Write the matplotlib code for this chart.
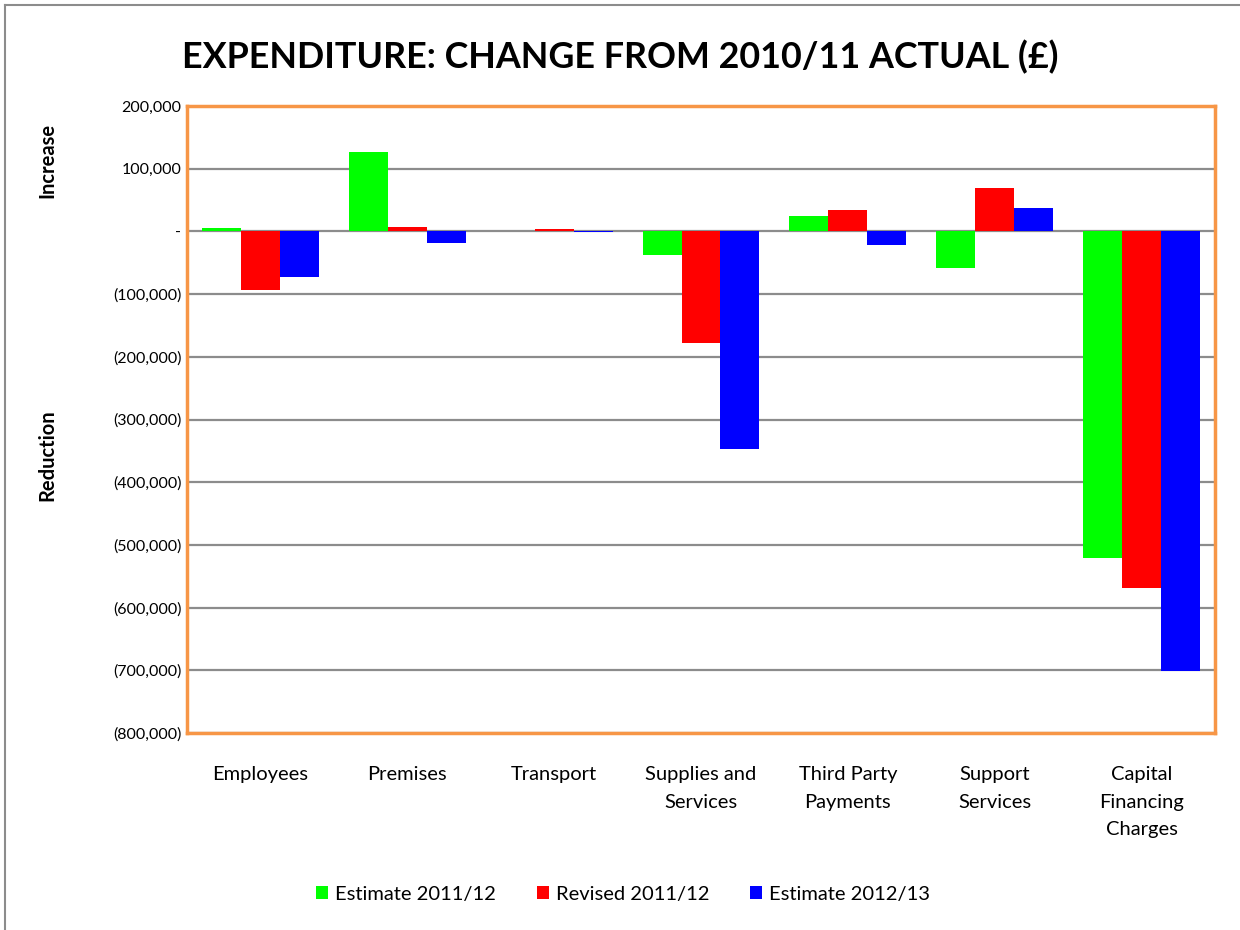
import matplotlib
matplotlib.use("Agg")
import matplotlib.pyplot as plt
import numpy as np
from matplotlib.lines import Line2D

categories = ["Employees", "Premises", "Transport", "Supplies and\nServices",
              "Third Party\nPayments", "Support\nServices", "Capital\nFinancing\nCharges"]
series_names = ["Estimate 2011/12", "Revised 2011/12", "Estimate 2012/13"]
estimate_2011 = [5000, 126500, 1000, -38000, 25000, -59000, -521000]
revised_2011 = [-94000, 7000, 4000, -178000, 33500, 69000, -568000]
estimate_2012 = [-73000, -18000, -1000, -347000, -21000, 37000, -701000]
colors = ["#00FF00", "#FF0000", "#0000FF"]
yticks = list(range(-800000, 200001, 100000))

plt.rcParams['font.family'] = ['Lato', 'DejaVu Sans']

fig = plt.figure(figsize=(12.4, 9.3), dpi=100)
ax = fig.add_axes([187/1240, 1-733/930, (1215-187)/1240, (733-106)/930])

x = np.arange(len(categories))
w = 0.265
for i, (vals, c, name) in enumerate(zip([estimate_2011, revised_2011, estimate_2012], colors, series_names)):
    ax.bar(x + (i-1)*w, vals, width=w, color=c, label=name, zorder=3)

ax.set_xlim(-0.5, len(categories)-0.5)
ax.set_ylim(-800000, 200000)
ax.set_yticks(yticks)

def fmt(v):
    if v == 0:
        return "-"
    if v < 0:
        return "({:,})".format(-v)
    return "{:,}".format(v)

ax.set_yticklabels([fmt(v) for v in yticks], fontsize=11.5)
ax.set_xticks(x)
ax.set_xticklabels(categories, fontsize=14.5, linespacing=1.75)
ax.tick_params(axis='both', length=0)
ax.tick_params(axis='y', pad=4)
ax.tick_params(axis='x', pad=24)
ax.grid(axis='y', color='#8c8c8c', linewidth=1.6, zorder=1)
ax.set_axisbelow(True)
for s in ax.spines.values():
    s.set_color('#F79646')
    s.set_linewidth(2.5)

fig.text(620/1240, 1-57/930, "EXPENDITURE: CHANGE FROM 2010/11 ACTUAL (£)",
         ha='center', va='center', fontsize=25.8, fontweight='bold')
fig.text(47/1240, 1-160/930, "Increase", rotation=90, ha='center', va='center',
         fontsize=14.5, fontweight='bold')
fig.text(47/1240, 1-455/930, "Reduction", rotation=90, ha='center', va='center',
         fontsize=14.5, fontweight='bold')

leg = fig.legend(loc='center', bbox_to_anchor=(623/1240, 1-894/930), ncol=3,
                 frameon=False, fontsize=14.5, handlelength=0.6, handleheight=0.6,
                 handletextpad=0.35, columnspacing=2.0)

fig.add_artist(Line2D([5/1240, 1], [1-5/930, 1-5/930], transform=fig.transFigure,
                      color='#8c8c8c', linewidth=1.5))
fig.add_artist(Line2D([5/1240, 5/1240], [0, 1-5/930], transform=fig.transFigure,
                      color='#8c8c8c', linewidth=1.5))

fig.savefig("out.png", dpi=100)
